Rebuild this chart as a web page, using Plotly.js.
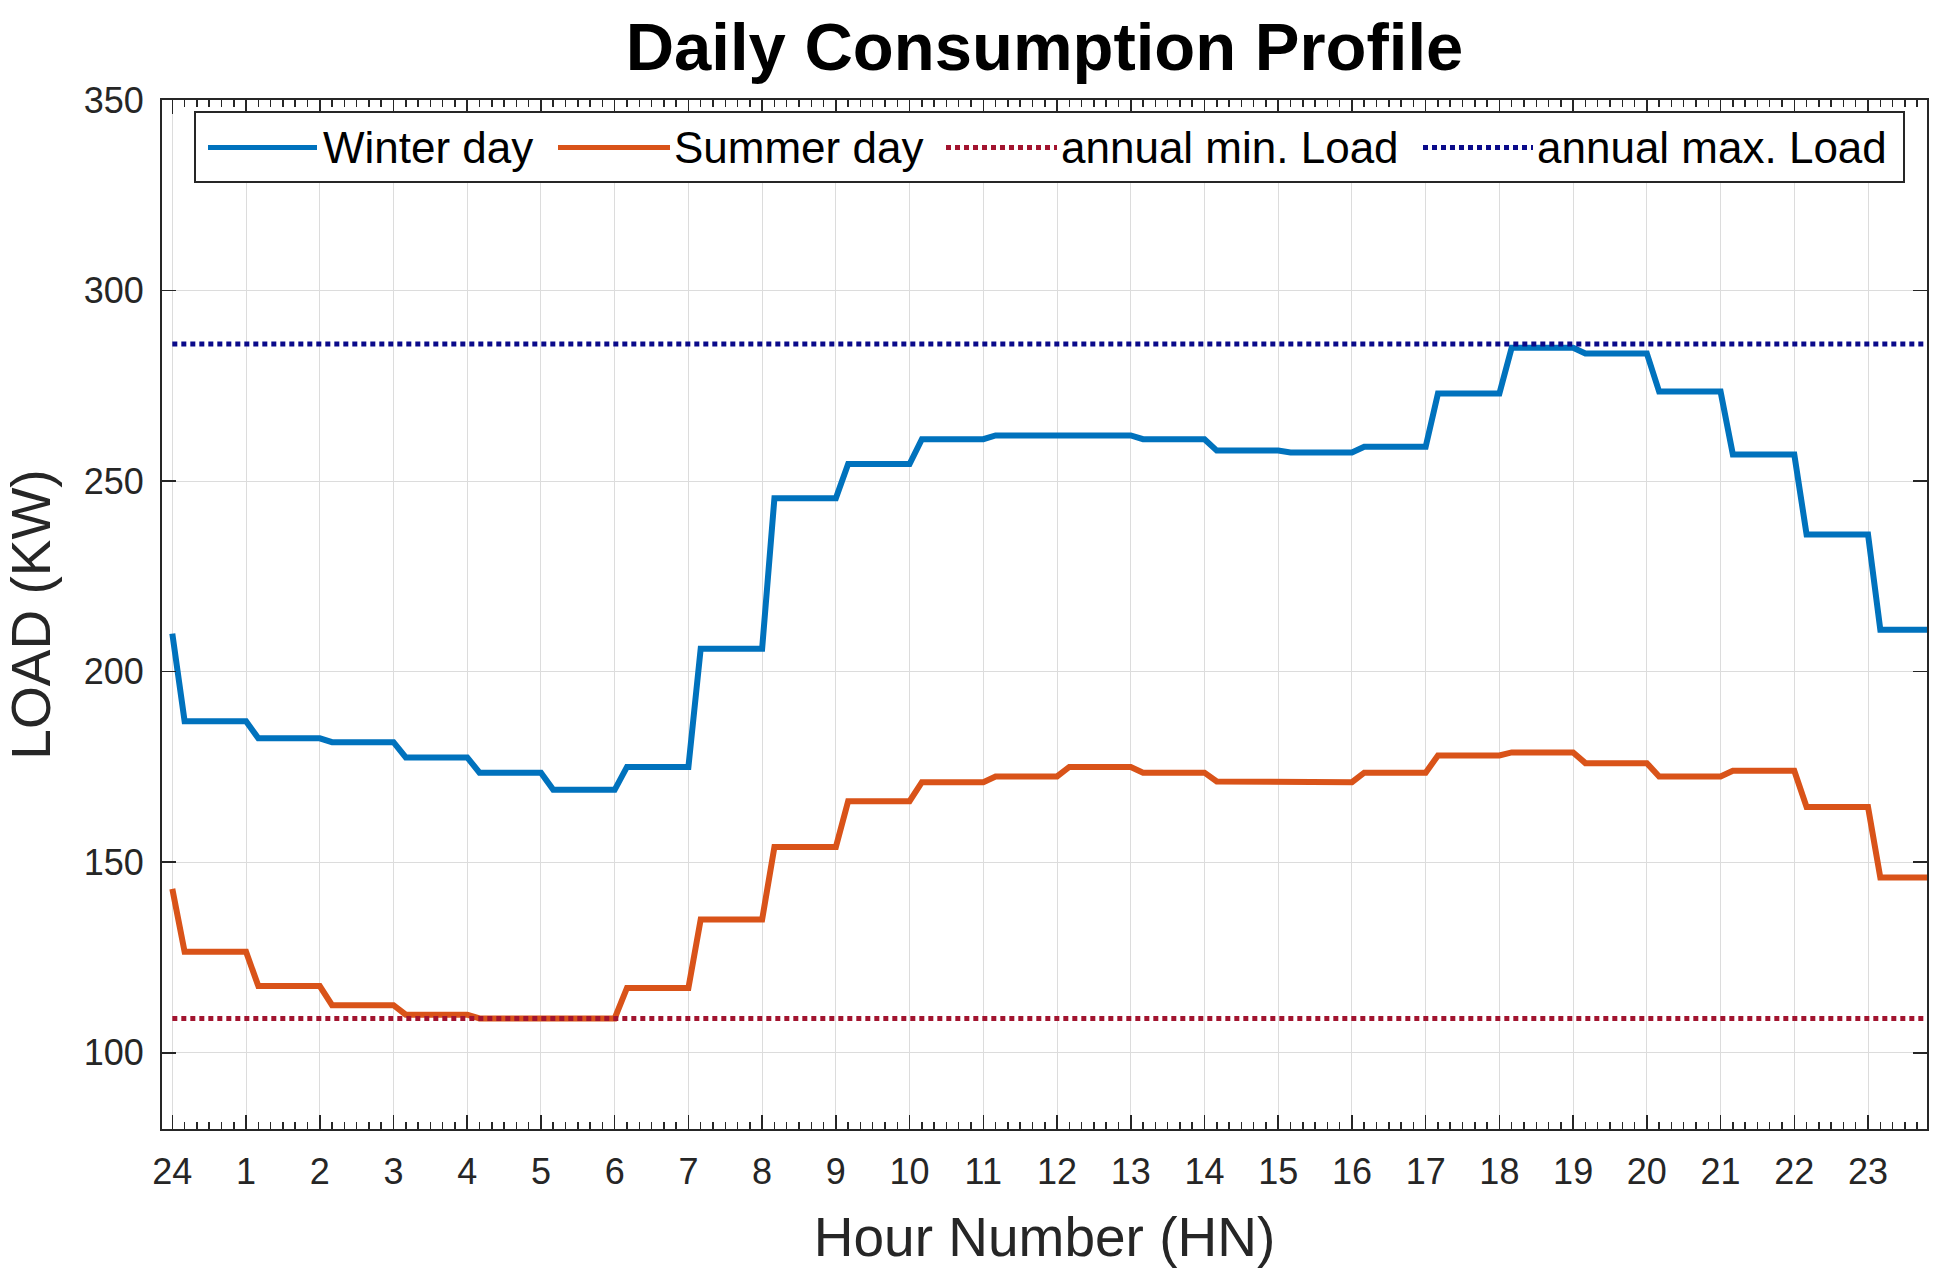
<!DOCTYPE html>
<html>
<head>
<meta charset="utf-8">
<script src="https://cdn.plot.ly/plotly-3.0.1.min.js"></script>
<style>
  html, body { margin: 0; padding: 0; background: #ffffff; }
  #chart { width: 1945px; height: 1277px; }
</style>
</head>
<body>
<div id="chart"></div>
<script>
// ---- Data ----
const hours = [0,1,2,3,4,5,6,7,8,9,10,11,12,13,14,15,16,17,18,19,20,21,22,23];
const hourLabels = ['24','1','2','3','4','5','6','7','8','9','10','11','12','13','14','15','16','17','18','19','20','21','22','23'];
// hourly load (kW) for each hour of the day
const winterLoad = [187, 182.5, 181.5, 177.5, 173.5, 169, 175, 206, 245.5, 254.5, 261, 262, 262, 261, 258, 257.5, 259, 273, 285, 283.5, 273.5, 257, 236, 211];
const summerLoad = [126.5, 117.5, 112.5, 110, 109, 109, 117, 135, 154, 166, 171, 172.5, 175, 173.5, 171.2, 171, 173.5, 178, 178.8, 176, 172.5, 174, 164.5, 146];
// value at the very start of the day (hour 24 / 0)
const winterStart = 210;
const summerStart = 143;
const annualMinLoad = 109;
const annualMaxLoad = 286;
const yTicks = [100, 150, 200, 250, 300, 350];

// ---- Build step profiles: each hour's value is reached 10 minutes after the hour ----
const RAMP = 1 / 6;
function profile(start, vals) {
  const x = [hours[0]], y = [start];
  vals.forEach((v, i) => {
    x.push(hours[i] + RAMP); y.push(v);
    x.push(hours[i] + 1); y.push(v);
  });
  return { x, y };
}
const w = profile(winterStart, winterLoad);
const s = profile(summerStart, summerLoad);
const dayEnd = hours[hours.length - 1] + 1;

const FONT = '"Liberation Sans", Arial, Helvetica, sans-serif';
const AXC = '#262626';
const C_WINTER = '#0072BD';
const C_SUMMER = '#D95319';
const C_MIN = '#A2142F';
const C_MAX = '#0A0A8A';
const DOT = '5px,4px';

const traces = [
  { x: w.x, y: w.y, type: 'scatter', mode: 'lines', name: 'Winter day',
    line: { color: C_WINTER, width: 6 } },
  { x: s.x, y: s.y, type: 'scatter', mode: 'lines', name: 'Summer day',
    line: { color: C_SUMMER, width: 6 } },
  { x: [hours[0], dayEnd], y: [annualMinLoad, annualMinLoad], type: 'scatter', mode: 'lines',
    name: 'annual min. Load', line: { color: C_MIN, width: 5, dash: DOT } },
  { x: [hours[0], dayEnd], y: [annualMaxLoad, annualMaxLoad], type: 'scatter', mode: 'lines',
    name: 'annual max. Load', line: { color: C_MAX, width: 5, dash: DOT } }
];

// ---- Custom legend (box, samples, labels) in paper coordinates ----
const M = { l: 162, r: 18, t: 100, b: 148 };
const PW = 1945 - M.l - M.r, PH = 1277 - M.t - M.b;
const px = v => (v - M.l) / PW;
const py = v => (1277 - M.b - v) / PH;
const legY = py(147.6);
const legendItems = [
  { name: traces[0].name, color: C_WINTER, dash: 'solid', x0: 208, x1: 317, tx: 322 },
  { name: traces[1].name, color: C_SUMMER, dash: 'solid', x0: 558, x1: 670, tx: 673 },
  { name: traces[2].name, color: C_MIN, dash: DOT, x0: 946, x1: 1057, tx: 1060 },
  { name: traces[3].name, color: C_MAX, dash: DOT, x0: 1423, x1: 1533, tx: 1536 }
];
const shapes = [
  { type: 'rect', xref: 'paper', yref: 'paper', x0: px(195), x1: px(1904), y0: py(182), y1: py(112),
    fillcolor: '#ffffff', line: { color: AXC, width: 2 }, layer: 'above' }
];
const annotations = [];
legendItems.forEach(it => {
  shapes.push({ type: 'line', xref: 'paper', yref: 'paper', x0: px(it.x0), x1: px(it.x1), y0: legY, y1: legY,
    line: { color: it.color, width: 5, dash: it.dash }, layer: 'above' });
  annotations.push({ xref: 'paper', yref: 'paper', x: px(it.tx), y: legY, xanchor: 'left', yanchor: 'middle',
    text: it.name, showarrow: false, font: { family: FONT, size: 44, color: '#000000' }, borderpad: 0 });
});

const layout = {
  width: 1945, height: 1277,
  margin: M,
  paper_bgcolor: '#ffffff', plot_bgcolor: '#ffffff',
  showlegend: false,
  font: { family: FONT, color: AXC },
  title: { text: '<b>Daily Consumption Profile</b>', font: { family: FONT, size: 67, color: '#000000' },
    x: 0.5, xref: 'paper', xanchor: 'center', y: 1 - 47 / 1277, yref: 'container', yanchor: 'middle' },
  xaxis: {
    range: [-0.14, 23.8],
    tickmode: 'array', tickvals: hours, ticktext: hourLabels,
    tickfont: { family: FONT, size: 36, color: AXC },
    ticks: 'inside', ticklen: 14, tickwidth: 1.5, tickcolor: AXC,
    ticklabelstandoff: 10,
    minor: { dtick: RAMP, tick0: 0, ticks: 'inside', ticklen: 7, tickwidth: 1.5, tickcolor: AXC, showgrid: false },
    showline: true, linecolor: AXC, linewidth: 2, mirror: 'allticks',
    showgrid: true, gridcolor: '#DCDCDC', gridwidth: 1, zeroline: false,
    title: { text: 'Hour Number (HN)', font: { family: FONT, size: 55, color: AXC }, standoff: 26 }
  },
  yaxis: {
    range: [80, 350],
    tickmode: 'array', tickvals: yTicks, ticktext: yTicks.map(String),
    tickfont: { family: FONT, size: 36, color: AXC },
    ticks: 'inside', ticklen: 14, tickwidth: 1.5, tickcolor: AXC,
    ticklabelstandoff: 9,
    showline: true, linecolor: AXC, linewidth: 2, mirror: 'allticks',
    showgrid: true, gridcolor: '#DCDCDC', gridwidth: 1, zeroline: false,
    automargin: true,
    title: { text: 'LOAD (KW)', font: { family: FONT, size: 55, color: AXC }, standoff: 18 }
  },
  shapes: shapes,
  annotations: annotations
};

Plotly.newPlot('chart', traces, layout, { staticPlot: true, displayModeBar: false });
</script>
</body>
</html>
